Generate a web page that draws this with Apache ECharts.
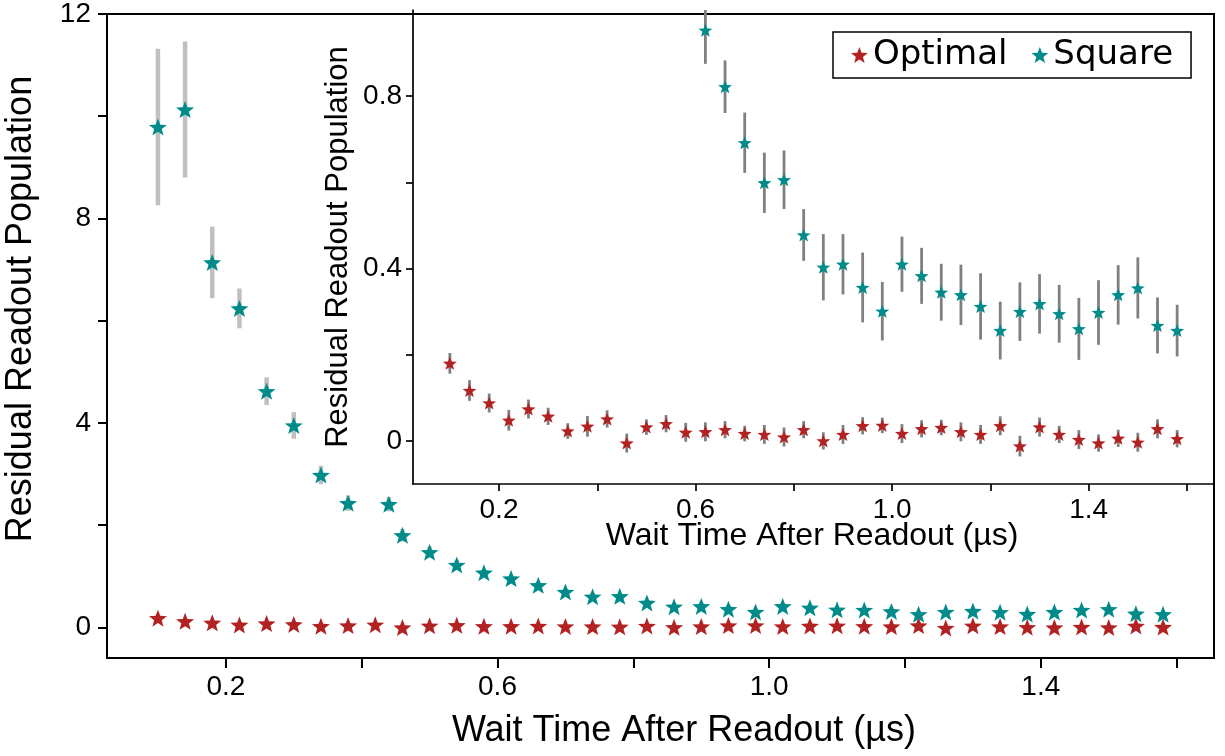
<!DOCTYPE html>
<html>
<head>
<meta charset="utf-8">
<script src="https://cdn.jsdelivr.net/npm/echarts@6/dist/echarts.min.js"></script>
<style>html,body{margin:0;padding:0;background:#fff;}#chart{width:1225px;height:756px;}</style>
</head>
<body>
<div id="chart"></div>
<script>
// ---- data ----
const xOptimal = [0.10,0.14,0.18,0.22,0.26,0.30,0.34,0.38,0.42,0.46,0.50,0.54,0.58,0.62,0.66,0.70,0.74,0.78,0.82,0.86,0.90,0.94,0.98,1.02,1.06,1.10,1.14,1.18,1.22,1.26,1.30,1.34,1.38,1.42,1.46,1.50,1.54,1.58];
const xSquare  = [0.10,0.14,0.18,0.22,0.26,0.30,0.34,0.38,0.44,0.46,0.50,0.54,0.58,0.62,0.66,0.70,0.74,0.78,0.82,0.86,0.90,0.94,0.98,1.02,1.06,1.10,1.14,1.18,1.22,1.26,1.30,1.34,1.38,1.42,1.46,1.50,1.54,1.58];
const yOptimal = [0.180,0.117,0.088,0.048,0.074,0.057,0.023,0.034,0.051,-0.005,0.032,0.040,0.020,0.021,0.026,0.017,0.015,0.009,0.026,0.000,0.015,0.035,0.036,0.017,0.028,0.031,0.021,0.015,0.035,-0.012,0.032,0.015,0.003,-0.005,0.006,-0.003,0.028,0.005];
const errOptimal = [0.024,0.024,0.022,0.024,0.022,0.020,0.018,0.024,0.020,0.022,0.018,0.020,0.022,0.022,0.020,0.018,0.022,0.022,0.020,0.020,0.022,0.020,0.018,0.022,0.020,0.018,0.022,0.022,0.022,0.024,0.022,0.020,0.022,0.020,0.020,0.022,0.022,0.020];
const ySquare = [9.79,10.13,7.14,6.24,4.62,3.95,2.98,2.43,2.41,1.80,1.47,1.22,1.07,0.953,0.822,0.692,0.599,0.606,0.478,0.403,0.410,0.356,0.301,0.410,0.383,0.345,0.339,0.312,0.256,0.300,0.318,0.295,0.260,0.298,0.339,0.355,0.268,0.256];
const errSquare = [1.53,1.33,0.70,0.39,0.27,0.26,0.18,0.15,0.14,0.12,0.11,0.10,0.06,0.078,0.061,0.070,0.070,0.068,0.060,0.077,0.070,0.081,0.068,0.064,0.065,0.066,0.070,0.077,0.067,0.068,0.069,0.067,0.072,0.075,0.069,0.071,0.065,0.060];

const seriesNames = ['Optimal', 'Square'];
const mainXTicks = [0.2,0.4,0.6,0.8,1.0,1.2,1.4,1.6];
const mainXLabels = [0.2,0.6,1.0,1.4];
const mainYTicks = [0,2,4,6,8,10,12];
const mainYLabels = [0,4,8,12];
const insetXTicks = [0.2,0.4,0.6,0.8,1.0,1.2,1.4,1.6];
const insetXLabels = [0.2,0.6,1.0,1.4];
const insetYTicks = [0,0.2,0.4,0.6,0.8];
const insetYLabels = [0,0.4,0.8];
const xTitle = 'Wait Time After Readout (µs)';
const yTitle = 'Residual Readout Population';

// ---- styling ----
const RED = '#b22222';
const TEAL = '#008b8b';
const FONT = 'Liberation Sans';
const STAR = 'path://M0,-10 L2.469,-3.398 L9.511,-3.09 L3.994,1.298 L5.878,8.09 L0,4.2 L-5.878,8.09 L-3.994,1.298 L-9.511,-3.09 L-2.469,-3.398 Z';

const pts = (xs, ys) => xs.map((x, i) => [x, ys[i]]);
const errPts = (xs, ys, es) => xs.map((x, i) => [x, ys[i], es[i]]);

function errSeries(name, xs, ys, es, gi, color, width) {
  return {
    type: 'custom', name: name, xAxisIndex: gi, yAxisIndex: gi, clip: true, z: 2,
    data: errPts(xs, ys, es), encode: { x: 0, y: 1 }, silent: true,
    renderItem: function (params, api) {
      const x = api.value(0), y = api.value(1), e = api.value(2);
      const p1 = api.coord([x, y - e]);
      const p2 = api.coord([x, y + e]);
      return { type: 'line', shape: { x1: p1[0], y1: p1[1], x2: p2[0], y2: p2[1] },
               style: { stroke: color, lineWidth: width } };
    }
  };
}
function starSeries(name, xs, ys, gi, color, size) {
  return {
    type: 'scatter', name: name, xAxisIndex: gi, yAxisIndex: gi, z: 5, clip: true,
    symbol: STAR, symbolSize: size, itemStyle: { color: color, opacity: 1 },
    data: pts(xs, ys)
  };
}

function xAxisCfg(gi, ticks, labels, lw, tickLen, margin) {
  return {
    type: 'value', gridIndex: gi, min: 0.025, max: 1.655,
    splitLine: { show: false },
    axisLine: { show: true, onZero: false, lineStyle: { color: '#000', width: lw } },
    axisTick: { show: true, inside: false, length: tickLen, customValues: ticks, lineStyle: { color: '#000', width: lw } },
    axisLabel: { show: true, customValues: labels, margin: margin, color: '#000', fontSize: 28, fontFamily: FONT,
                 formatter: v => v.toFixed(1) }
  };
}
function yAxisCfg(gi, min, max, ticks, labels, lw, tickLen, margin) {
  return {
    type: 'value', gridIndex: gi, min: min, max: max,
    splitLine: { show: false },
    axisLine: { show: true, onZero: false, lineStyle: { color: '#000', width: lw } },
    axisTick: { show: true, inside: false, length: tickLen, customValues: ticks, lineStyle: { color: '#000', width: lw } },
    axisLabel: { show: true, customValues: labels, margin: margin, color: '#000', fontSize: 28, fontFamily: FONT,
                 formatter: v => (Number.isInteger(v) ? String(v) : v.toFixed(1)) }
  };
}

const chart = echarts.init(document.getElementById('chart'), null, { renderer: 'canvas' });
chart.setOption({
  animation: false,
  backgroundColor: '#fff',
  grid: [
    { left: 107, top: 10, right: 11, bottom: 98, show: true, borderColor: '#000', borderWidth: 2, backgroundColor: 'transparent' },
    { left: 413, top: 10, right: 11, bottom: 272, show: false }
  ],
  xAxis: [
    xAxisCfg(0, mainXTicks, mainXLabels, 2, 10, 15),
    xAxisCfg(1, insetXTicks, insetXLabels, 1.7, 7, 12)
  ],
  yAxis: [
    yAxisCfg(0, -0.6, 12, mainYTicks, mainYLabels, 2, 9, 16),
    yAxisCfg(1, -0.1, 1.0, insetYTicks, insetYLabels, 1.7, 7, 11)
  ],
  legend: {
    left: 833, top: 32, orient: 'horizontal',
    data: [{ name: seriesNames[0], icon: STAR }, { name: seriesNames[1], icon: STAR }],
    itemWidth: 17, itemHeight: 16, itemGap: 24,
    padding: [6, 18, 6, 18],
    backgroundColor: '#fff', borderColor: '#000', borderWidth: 1.5, borderRadius: 0,
    textStyle: { fontSize: 34, fontFamily: 'DejaVu Sans', color: '#000' }
  },
  graphic: [
    { type: 'text', x: 21, y: 309, rotation: Math.PI / 2,
      style: { text: yTitle, fontSize: 36, fontFamily: FONT, fill: '#000', align: 'center', verticalAlign: 'middle' } },
    { type: 'text', x: 684, y: 731,
      style: { text: xTitle, fontSize: 36, fontFamily: FONT, fill: '#000', align: 'center', verticalAlign: 'middle' } },
    { type: 'text', x: 812, y: 536,
      style: { text: xTitle, fontSize: 32, fontFamily: FONT, fill: '#000', align: 'center', verticalAlign: 'middle' } },
    { type: 'text', x: 338, y: 247, rotation: Math.PI / 2,
      style: { text: yTitle, fontSize: 31, fontFamily: FONT, fill: '#000', align: 'center', verticalAlign: 'middle' } }
  ],
  series: [
    errSeries('errOptMain', xOptimal, yOptimal, errOptimal, 0, '#c0c0c0', 4.5),
    errSeries('errSqMain', xSquare, ySquare, errSquare, 0, '#c0c0c0', 4.5),
    starSeries(seriesNames[0], xOptimal, yOptimal, 0, RED, [18, 17]),
    starSeries(seriesNames[1], xSquare, ySquare, 0, TEAL, [18, 17]),
    errSeries('errOptInset', xOptimal, yOptimal, errOptimal, 1, '#808080', 2.8),
    errSeries('errSqInset', xSquare, ySquare, errSquare, 1, '#808080', 2.8),
    starSeries(seriesNames[0], xOptimal, yOptimal, 1, RED, [14, 13]),
    starSeries(seriesNames[1], xSquare, ySquare, 1, TEAL, [14, 13])
  ]
});
</script>
</body>
</html>
